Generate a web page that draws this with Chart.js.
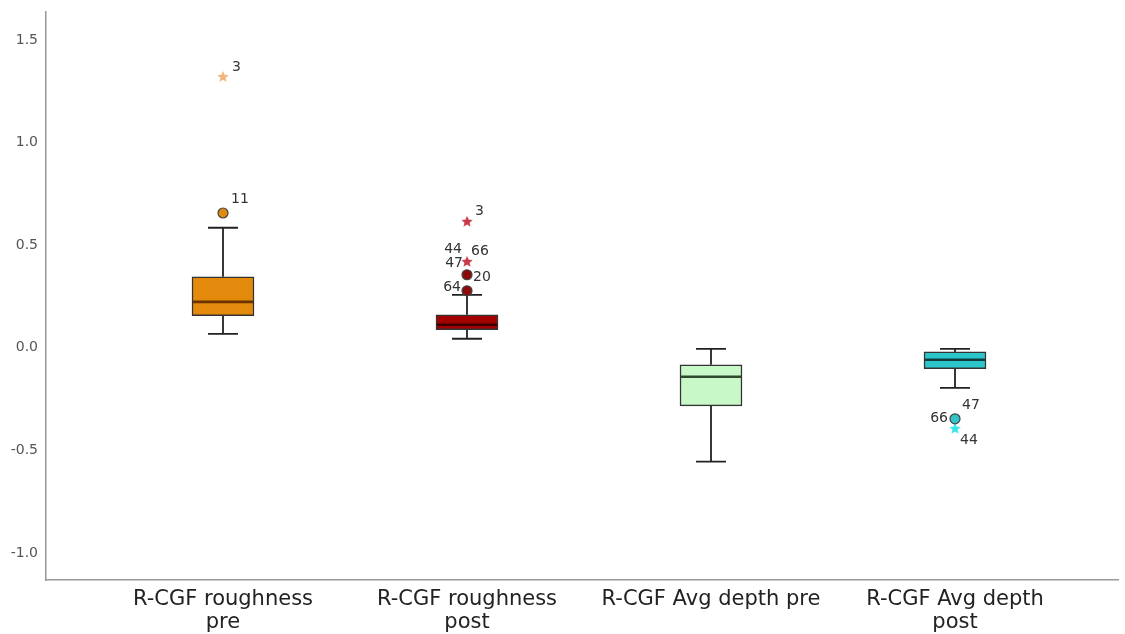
<!DOCTYPE html>
<html>
<head>
<meta charset="utf-8">
<script src="https://cdn.jsdelivr.net/npm/chart.js@4/dist/chart.umd.min.js"></script>
<style>
html,body{margin:0;padding:0;background:#fff;}
#wrap{width:1125px;height:634px;position:relative;}
</style>
</head>
<body>
<div id="wrap"><canvas id="c"></canvas></div>
<script>
// ---- data ----
const categories = [["R-CGF roughness","pre"],["R-CGF roughness","post"],["R-CGF Avg depth pre"],["R-CGF Avg depth","post"]];
const catPos = [1, 2, 3, 4];
const whiskerLow = [0.068, 0.044, -0.555, -0.195];
const q1 = [0.156, 0.088, -0.283, -0.102];
const median = [0.224, 0.112, -0.141, -0.058];
const q3 = [0.346, 0.161, -0.083, -0.020];
const whiskerHigh = [0.585, 0.258, -0.005, -0.005];
const circleCat = [1, 2, 2, 4];
const circleVal = [0.657, 0.356, 0.278, -0.346];
const circleIds = [["11"], ["20"], ["64"], ["47", "66"]];
const starCat = [1, 2, 2, 4];
const starVal = [1.32, 0.614, 0.419, -0.395];
const starIds = [["3"], ["3"], ["44", "66", "47"], ["44"]];
const yTicks = [-1.0, -0.5, 0.0, 0.5, 1.0, 1.5];

// ---- styles ----
const boxColors = ['#E38A0D', '#A30000', '#C8F7C8', '#2CC6CA'];
const medianColors = ['#6B3300', '#3A0000', '#2E4A2E', '#123C3C'];
const circleColors = ['#E08A10', '#8E0A0A', '#8E0A0A', '#30C4C8'];
const starColors = ['#F0B47C', '#C83A48', '#C83A48', '#3CE4E6'];
const circleLabelPos = [[[8,-14,'left']], [[6,3,'left']], [[-6,-3,'right']], [[7,-13,'left'],[-7,0,'right']]];
const starLabelPos = [[[9,-10,'left']], [[8,-10,'left']], [[-5,-12,'right'],[4,-10,'left'],[-4,2,'right']], [[5,12,'left']]];

function makeStar(color, r) {
  const c = document.createElement('canvas');
  const s = Math.ceil(r * 2 + 2);
  c.width = s; c.height = s;
  const g = c.getContext('2d');
  const cx = s / 2, cy = s / 2;
  g.beginPath();
  for (let i = 0; i < 10; i++) {
    const rad = i % 2 === 0 ? r : r * 0.45;
    const a = -Math.PI / 2 + i * Math.PI / 5;
    const x = cx + rad * Math.cos(a), y = cy + rad * Math.sin(a);
    if (i === 0) g.moveTo(x, y); else g.lineTo(x, y);
  }
  g.closePath();
  g.fillStyle = color;
  g.fill();
  return c;
}
const starImgs = starColors.map(c => makeStar(c, 6));

const boxPlugin = {
  id: 'boxparts',
  beforeDatasetsDraw(chart) {
    const ctx = chart.ctx, xs = chart.scales.x, ys = chart.scales.y;
    ctx.save();
    ctx.strokeStyle = '#222';
    ctx.lineWidth = 1.8;
    catPos.forEach((p, i) => {
      const x = xs.getPixelForValue(p);
      ctx.beginPath();
      ctx.moveTo(x, ys.getPixelForValue(q3[i])); ctx.lineTo(x, ys.getPixelForValue(whiskerHigh[i]));
      ctx.moveTo(x, ys.getPixelForValue(q1[i])); ctx.lineTo(x, ys.getPixelForValue(whiskerLow[i]));
      const yh = ys.getPixelForValue(whiskerHigh[i]), yl = ys.getPixelForValue(whiskerLow[i]);
      ctx.moveTo(x - 15, yh); ctx.lineTo(x + 15, yh);
      ctx.moveTo(x - 15, yl); ctx.lineTo(x + 15, yl);
      ctx.stroke();
    });
    ctx.restore();
  },
  afterDatasetDraw(chart, args) {
    if (args.index !== 0) return;
    const ctx = chart.ctx, xs = chart.scales.x, ys = chart.scales.y;
    ctx.save();
    ctx.lineWidth = 2.6;
    catPos.forEach((p, i) => {
      const x = xs.getPixelForValue(p), y = ys.getPixelForValue(median[i]);
      ctx.strokeStyle = medianColors[i];
      ctx.beginPath(); ctx.moveTo(x - 30, y); ctx.lineTo(x + 30, y); ctx.stroke();
    });
    ctx.restore();
  },
  afterDraw(chart) {
    const ctx = chart.ctx, xs = chart.scales.x, ys = chart.scales.y;
    ctx.save();
    ctx.font = '14px "DejaVu Sans", sans-serif';
    ctx.fillStyle = '#333';
    ctx.textBaseline = 'middle';
    const draw = (cats, vals, ids, pos) => {
      cats.forEach((c, i) => {
        const x = xs.getPixelForValue(c), y = ys.getPixelForValue(vals[i]);
        ids[i].forEach((t, j) => {
          const o = pos[i][j];
          ctx.textAlign = o[2];
          ctx.fillText(t, x + o[0], y + o[1]);
        });
      });
    };
    draw(circleCat, circleVal, circleIds, circleLabelPos);
    draw(starCat, starVal, starIds, starLabelPos);
    ctx.restore();
  }
};

new Chart(document.getElementById('c'), {
  type: 'bar',
  data: {
    datasets: [
      {
        type: 'bar',
        data: catPos.map((p, i) => ({x: p, y: [q1[i], q3[i]]})),
        backgroundColor: boxColors,
        borderColor: '#333',
        borderWidth: 1.5,
        borderSkipped: false,
        barThickness: 62
      },
      {
        type: 'scatter',
        data: circleCat.map((c, i) => ({x: c, y: circleVal[i]})),
        pointStyle: 'circle',
        pointRadius: 5,
        backgroundColor: circleColors,
        borderColor: '#444',
        borderWidth: 1.2
      },
      {
        type: 'scatter',
        data: starCat.map((c, i) => ({x: c, y: starVal[i]})),
        pointStyle: starImgs,
        pointRadius: 6
      }
    ]
  },
  options: {
    responsive: true,
    maintainAspectRatio: false,
    animation: false,
    events: [],
    layout: {padding: {top: 12, right: 0, bottom: 0, left: 0}},
    plugins: {legend: {display: false}, tooltip: {enabled: false}},
    scales: {
      x: {
        type: 'linear',
        offset: false,
        min: 0.2746,
        max: 4.668,
        grid: {display: false, drawTicks: false, offset: false},
        border: {display: true, color: '#999', width: 1.5},
        afterBuildTicks(s) { s.ticks = catPos.map(v => ({value: v})); },
        afterFit(s) { s.height = 54; s.paddingLeft = 0; s.paddingRight = 0; },
        ticks: {
          autoSkip: false,
          maxRotation: 0,
          padding: 9,
          color: '#222',
          font: {size: 21, family: '"DejaVu Sans", sans-serif', lineHeight: 1.05},
          callback(v) { const i = catPos.indexOf(v); return i >= 0 ? categories[i] : ''; }
        }
      },
      y: {
        type: 'linear',
        min: -1.1316,
        max: 1.6365,
        grid: {display: false, drawTicks: false},
        border: {display: true, color: '#999', width: 1.5},
        afterBuildTicks(s) { s.ticks = yTicks.map(v => ({value: v})); },
        afterFit(s) { s.width = 46; s.paddingTop = 0; s.paddingBottom = 0; },
        ticks: {
          padding: 8,
          color: '#555',
          font: {size: 14, family: '"DejaVu Sans", sans-serif'},
          callback(v) { return Number(v).toFixed(1); }
        }
      }
    }
  },
  plugins: [boxPlugin]
});
</script>
</body>
</html>
